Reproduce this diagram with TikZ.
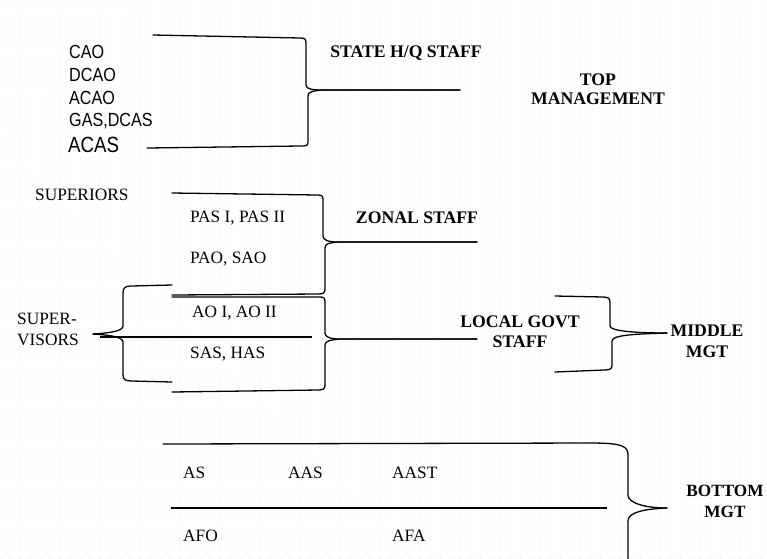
\documentclass[tikz,border=0pt]{standalone}
\usepackage{fontspec}
\setmainfont{Liberation Serif}
\newfontfamily\sansc[FakeStretch=0.85]{Liberation Sans}
\usetikzlibrary{patterns.meta}
\begin{document}
\begin{tikzpicture}[x=1pt,y=-1pt,
  brk/.style={line width=1.3pt,line join=round,line cap=round},
  lbl/.style={font=\fontsize{17.7}{19}\selectfont\bfseries,align=center,inner sep=0pt},
  item/.style={font=\fontsize{17.3}{19}\selectfont,anchor=west,inner sep=0pt},
  sitem/.style={font=\fontsize{19}{20}\sansc,anchor=west,inner sep=0pt}]
\useasboundingbox (0,0) rectangle (767,558);
\fill[pattern={Dots[distance=10pt,radius=0.5pt]},pattern color=gray!55] (0,0) rectangle (767,558);

% ---- top management ----
\node[sitem] (cao)  at (69,52)  {CAO};
\node[sitem] (dcao) at (69,75)  {DCAO};
\node[sitem] (acao) at (69,98)  {ACAO};
\node[sitem] (gas)  at (69,121) {GAS,DCAS};
\node[sitem,font=\fontsize{22}{24}\sansc] (acas) at (68,145) {ACAS};
\node[lbl] (state) at (406,53) {STATE H/Q STAFF};
\node[lbl,font=\fontsize{17.7}{19}\selectfont\bfseries] (top) at (598,89) {TOP\\MANAGEMENT};
\coordinate (sqt) at (460,90);
\draw[brk] (153,35) -- (300,38) .. controls (305,38) and (306,39) .. (306,43)
  -- (306,85) .. controls (306,89) and (312,90) .. (322,90) -- (sqt);
\draw[brk] (sqt) -- (322,90) .. controls (312,91) and (308,92) .. (308,96)
  -- (308,142) .. controls (308,146) and (306,146) .. (300,146) -- (147,148);

% ---- zonal / local govt / supervisors ----
\node[item] (sup) at (35,195) {SUPERIORS};
\node[item] (pas) at (190,218) {PAS I, PAS II};
\node[item] (pao) at (190,259) {PAO, SAO};
\node[item] (aoi) at (192,313) {AO I, AO II};
\node[item] (sas) at (190,354) {SAS, HAS};
\node[item,align=left,font=\fontsize{17.3}{21}\selectfont] (svs) at (17,329) {SUPER-\\VISORS};
\node[lbl] (zonal) at (417,218) {ZONAL STAFF};
\node[lbl,font=\fontsize{17.7}{20}\selectfont\bfseries] (lgs) at (520,332) {LOCAL GOVT\\STAFF};
\node[lbl,font=\fontsize{17.7}{21}\selectfont\bfseries] (mid) at (707,341) {MIDDLE\\MGT};

\coordinate (zt) at (477,242);
\draw[brk] (172,193) -- (318,195) .. controls (322,195) and (323,196) .. (323,200)
  -- (323,236) .. controls (323,240) and (328,242) .. (338,242) -- (zt);
\draw[brk] (zt) -- (338,242) .. controls (328,243) and (325,244) .. (325,248)
  -- (325,289) .. controls (325,293) and (323,294) .. (318,294) -- (172,295);

\coordinate (lt) at (477,339);
\draw[brk] (172,297) -- (320,297) .. controls (324,297) and (325,298) .. (325,302)
  -- (325,333) .. controls (325,337) and (330,339) .. (340,339) -- (lt);
\draw[brk] (lt) -- (340,339) .. controls (330,340) and (325,341) .. (325,345)
  -- (325,385) .. controls (325,389) and (323,390) .. (318,390) -- (172,392);

\coordinate (svt) at (93,334);
\draw[brk] (172,285) -- (131,286) .. controls (125,286) and (123,288) .. (123,293)
  -- (123,326) .. controls (123,331) and (110,333) .. (svt);
\draw[brk] (svt) .. controls (110,335) and (123,337) .. (123,342)
  -- (123,375) .. controls (123,380) and (126,381) .. (132,381) -- (172,382);
\draw[line width=1.1pt] (100,337) -- (312,337);

\coordinate (mt) at (667,333);
\draw[brk] (555,296) -- (603,297) .. controls (608,297) and (610,298) .. (610,303)
  -- (610,326) .. controls (610,331) and (635,333) .. (mt);
\draw[brk] (mt) .. controls (635,334) and (612,335) .. (612,341)
  -- (612,365) .. controls (612,369) and (610,370) .. (604,370) -- (555,372);

% ---- bottom ----
\node[item] (as)   at (183,473) {AS};
\node[item] (aas)  at (288,473) {AAS};
\node[item] (aast) at (392,473) {AAST};
\node[item] (afo)  at (183,536) {AFO};
\node[item] (afa)  at (392,536) {AFA};
\node[lbl,font=\fontsize{17.2}{21}\selectfont\bfseries] (bot) at (725,501) {BOTTOM\\MGT};

\coordinate (bt) at (667,508);
\draw[brk] (163,444) -- (590,443) .. controls (622,443) and (628,446) .. (628,455)
  -- (628,495) .. controls (628,503) and (645,508) .. (bt);
\draw[brk] (bt) .. controls (645,509) and (628,512) .. (628,521) -- (628,560);
\draw[line width=1.1pt] (171,508) -- (607,508);
\end{tikzpicture}
\end{document}
